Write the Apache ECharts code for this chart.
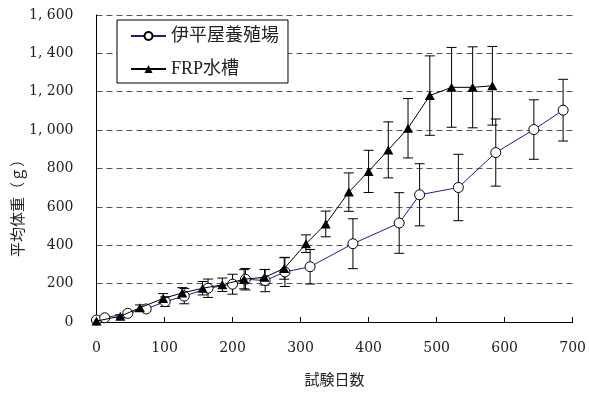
<!DOCTYPE html>
<html>
<head>
<meta charset="utf-8">
<script src="https://cdn.jsdelivr.net/npm/echarts@6/dist/echarts.min.js"></script>
<style>html,body{margin:0;padding:0;background:#fff}#c{width:589px;height:394px}</style>
</head>
<body>
<div id="c"></div>
<script>
// 伊平屋養殖場
var iheyaDays = [0, 12, 46, 73, 101, 129, 164, 200, 219, 248, 277, 314, 377, 445, 475, 532, 587, 643, 686];
var iheyaMean = [10, 22, 45, 68, 106, 135, 176, 197, 223, 216, 261, 288, 408, 516, 663, 701, 883, 1003, 1104];
var iheyaSD   = [5, 8, 10, 12, 25, 40, 48, 52, 56, 58, 76, 90, 130, 158, 162, 173, 175, 155, 161];
// FRP水槽
var frpDays = [0, 35, 64, 98, 126, 156, 185, 217, 247, 276, 308, 337, 371, 400, 429, 458, 490, 522, 553, 582];
var frpMean = [5, 30, 74, 123, 151, 176, 194, 223, 233, 279, 408, 511, 677, 785, 897, 1010, 1180, 1223, 1223, 1231];
var frpSD   = [3, 8, 15, 25, 28, 35, 35, 50, 40, 56, 46, 67, 100, 110, 146, 155, 207, 208, 211, 205];

var seriesNames = ['伊平屋養殖場', 'FRP水槽'];
var xTitle = '試験日数';
var yTitle = '平均体重（ｇ）';

function pts(d, m) { return d.map(function (x, i) { return [x, m[i]]; }); }
function errs(d, m, s) { return d.map(function (x, i) { return [x, m[i] - s[i], m[i] + s[i]]; }); }

function errRender(params, api) {
  var x = api.value(0), lo = api.value(1), hi = api.value(2);
  var a = api.coord([x, hi]), b = api.coord([x, lo]);
  var w = 5, st = { stroke: '#000', lineWidth: 1 };
  return { type: 'group', children: [
    { type: 'line', shape: { x1: a[0], y1: a[1], x2: b[0], y2: b[1] }, style: st },
    { type: 'line', shape: { x1: a[0] - w, y1: a[1], x2: a[0] + w, y2: a[1] }, style: st },
    { type: 'line', shape: { x1: b[0] - w, y1: b[1], x2: b[0] + w, y2: b[1] }, style: st }
  ]};
}

var chart = echarts.init(document.getElementById('c'), null, { renderer: 'canvas' });
var numFont = 'DejaVu Serif';
var cjkFont = '"Liberation Serif", "Noto Sans CJK JP"';
chart.setOption({
  animation: false,
  backgroundColor: '#fff',
  grid: { left: 96.5, right: 14, top: 15, bottom: 68 },
  legend: {
    data: seriesNames,
    orient: 'vertical',
    left: 117, top: 20,
    padding: [7, 9, 5, 13],
    itemGap: 15,
    itemWidth: 35, itemHeight: 10,
    backgroundColor: '#fff',
    borderColor: '#000', borderWidth: 1,
    textStyle: { fontFamily: cjkFont, fontSize: 18, color: '#222' }
  },
  xAxis: {
    type: 'value', min: 0, max: 700, interval: 100,
    axisLine: { lineStyle: { color: '#000', width: 1 } },
    axisTick: { show: true, inside: true, length: 5, lineStyle: { color: '#000' } },
    axisLabel: { fontFamily: numFont, fontSize: 14, color: '#222', margin: 19 },
    splitLine: { show: false },
    name: xTitle, nameLocation: 'middle', nameGap: 52,
    nameTextStyle: { fontFamily: cjkFont, fontSize: 15, color: '#222' }
  },
  yAxis: {
    type: 'value', min: 0, max: 1600, interval: 200,
    axisLine: { show: true, lineStyle: { color: '#000', width: 1 } },
    axisTick: { show: false },
    axisLabel: {
      fontFamily: numFont, fontSize: 14, color: '#222', margin: 23,
      formatter: function (v) {
        if (v >= 1000) { return Math.floor(v / 1000) + ', ' + String(v % 1000).padStart(3, '0'); }
        return String(v);
      }
    },
    splitLine: { show: true, lineStyle: { color: '#555', width: 1, type: [6, 4] } }
  },
  graphic: [{
    type: 'text', left: 12, top: 152, rotation: Math.PI / 2,
    style: { text: yTitle, fontFamily: cjkFont, fontSize: 15, fill: '#222' }
  }],
  series: [
    { type: 'custom', name: 'err1', renderItem: errRender, data: errs(iheyaDays, iheyaMean, iheyaSD), z: 1, silent: true },
    { type: 'custom', name: 'err2', renderItem: errRender, data: errs(frpDays, frpMean, frpSD), z: 1, silent: true },
    {
      type: 'line', name: seriesNames[0], data: pts(iheyaDays, iheyaMean), z: 3,
      symbol: 'circle', symbolSize: 10,
      lineStyle: { color: '#1c1c98', width: 1 },
      itemStyle: { color: '#fff', borderColor: '#000', borderWidth: 1 }
    },
    {
      type: 'line', name: seriesNames[1], data: pts(frpDays, frpMean), z: 4,
      symbol: 'triangle', symbolSize: [10, 9],
      lineStyle: { color: '#000', width: 1 },
      itemStyle: { color: '#000', borderColor: '#000', borderWidth: 0 }
    }
  ]
});
</script>
</body>
</html>
